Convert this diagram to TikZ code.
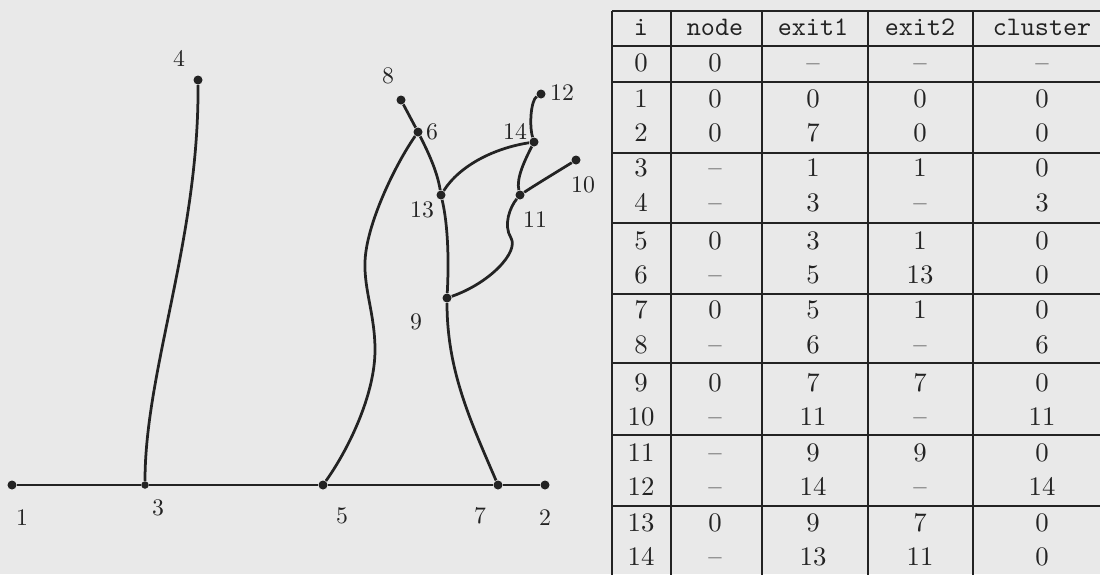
\documentclass[tikz,border=0pt]{standalone}
\usepackage{fontspec}
\definecolor{bg}{RGB}{233,233,233}
\definecolor{ink}{RGB}{35,35,35}
\begin{document}
\begin{tikzpicture}[x=0.4pt,y=-0.4pt,
  dot/.style={circle,fill=ink,inner sep=0pt,minimum size=3.6pt},
  edge/.style={draw=ink,line width=1.1pt},
  lbl/.style={text=ink,inner sep=0pt,font=\fontsize{9.5}{11}\selectfont},
  cell/.style={text=ink,inner sep=0pt,anchor=base,font=\fontsize{10.7}{12}\selectfont},
  head/.style={text=ink,inner sep=0pt,anchor=base,font={\ttfamily\fontsize{10.7}{12}\selectfont}},
  rule/.style={draw=ink,line width=0.85pt}]
\fill[bg] (0,0) rectangle (1100,574);
\useasboundingbox (0,0) rectangle (1100,574);
\clip (0,0) rectangle (1100,574);

% ---------- graph vertices ----------
\node[dot] (n1) at (12,485) {};
\node[dot,minimum size=3pt] (n3) at (145,485) {};
\node[dot] (n5) at (323,485) {};
\node[dot] (n7) at (498,485) {};
\node[dot] (n2) at (545,485) {};
\node[dot] (n4) at (198,80) {};
\node[dot] (n8) at (401,100) {};
\node[dot] (n6) at (418,132) {};
\node[dot] (n13) at (441,195) {};
\node[dot] (n9) at (447,298) {};
\node[dot] (n14) at (534,142) {};
\node[dot] (n12) at (541,94) {};
\node[dot] (n11) at (520,195) {};
\node[dot] (n10) at (576,160) {};

% ---------- labels ----------
\node[lbl] (l1) at (22,518) {1};
\node[lbl] (l3) at (158,508) {3};
\node[lbl] (l5) at (342,516) {5};
\node[lbl] (l7) at (480,516) {7};
\node[lbl] (l2) at (545,518) {2};
\node[lbl] (l4) at (179,58) {4};
\node[lbl] (l8) at (388,76) {8};
\node[lbl] (l6) at (432,132) {6};
\node[lbl] (l12) at (562,93) {12};
\node[lbl] (l14) at (515,131) {14};
\node[lbl] (l10) at (583,185) {10};
\node[lbl] (l11) at (535,220) {11};
\node[lbl] (l13) at (422,210) {13};
\node[lbl] (l9) at (416,322) {9};

% ---------- edges ----------
\draw[edge] (n1) -- (n3) -- (n5) -- (n7) -- (n2);
\draw[edge] (n3) .. controls (145,370) and (199,240) .. (n4);
\coordinate (w56a) at (375,350);
\coordinate (w56b) at (365,262);
\draw[edge] (n5) .. controls (348,450) and (375,395) .. (w56a)
  .. controls (375,315) and (364,290) .. (w56b)
  .. controls (366,225) and (395,165) .. (n6);
\draw[edge] (n7) .. controls (470,420) and (447,370) .. (n9);
\draw[edge] (n9) .. controls (449,260) and (448,225) .. (n13);
\draw[edge] (n13) .. controls (437,170) and (427,150) .. (n6);
\draw[edge] (n6) -- (n8);
\draw[edge] (n13) .. controls (460,165) and (495,148) .. (n14);
\draw[edge] (n14) .. controls (529,125) and (531,100) .. (n12);
\draw[edge] (n14) .. controls (525,160) and (516,178) .. (n11);
\draw[edge] (n11) .. controls (540,182) and (560,170) .. (n10);
\coordinate (w119) at (511,238);
\draw[edge] (n11) .. controls (510,207) and (503,225) .. (w119)
  .. controls (519,252) and (490,283) .. (n9);

% ---------- table rules ----------
\foreach \x in {612,671,762,868,973} \draw[rule] (\x,11) -- (\x,580);
\foreach \y in {11,46,82,153,223,294,363,435,506} \draw[rule] (612,\y) -- (1110,\y);

% ---------- table header ----------
\node[head] (h1) at (641,35) {i};
\node[head] (h2) at (715,35) {node};
\node[head] (h3) at (813,35) {exit1};
\node[head] (h4) at (920,35) {exit2};
\node[head] (h5) at (1042,35) {cluster};

% ---------- table body ----------
\foreach \r/\a/\b/\c/\d/\y in {
  0/0/\textendash/\textendash/\textendash/63,
  1/0/0/0/0/99,
  2/0/7/0/0/133,
  3/\textendash/1/1/0/168,
  4/\textendash/3/\textendash/3/203,
  5/0/3/1/0/241,
  6/\textendash/5/13/0/275,
  7/0/5/1/0/310,
  8/\textendash/6/\textendash/6/345,
  9/0/7/7/0/383,
  10/\textendash/11/\textendash/11/417,
  11/\textendash/9/9/0/453,
  12/\textendash/14/\textendash/14/487,
  13/0/9/7/0/523,
  14/\textendash/13/11/0/557}{
  \node[cell] (t\r-1) at (641,\y+8.5) {\r};
  \node[cell] (t\r-2) at (715,\y+8.5) {\a};
  \node[cell] (t\r-3) at (813,\y+8.5) {\b};
  \node[cell] (t\r-4) at (920,\y+8.5) {\c};
  \node[cell] (t\r-5) at (1042,\y+8.5) {\d};
}
\end{tikzpicture}
\end{document}
